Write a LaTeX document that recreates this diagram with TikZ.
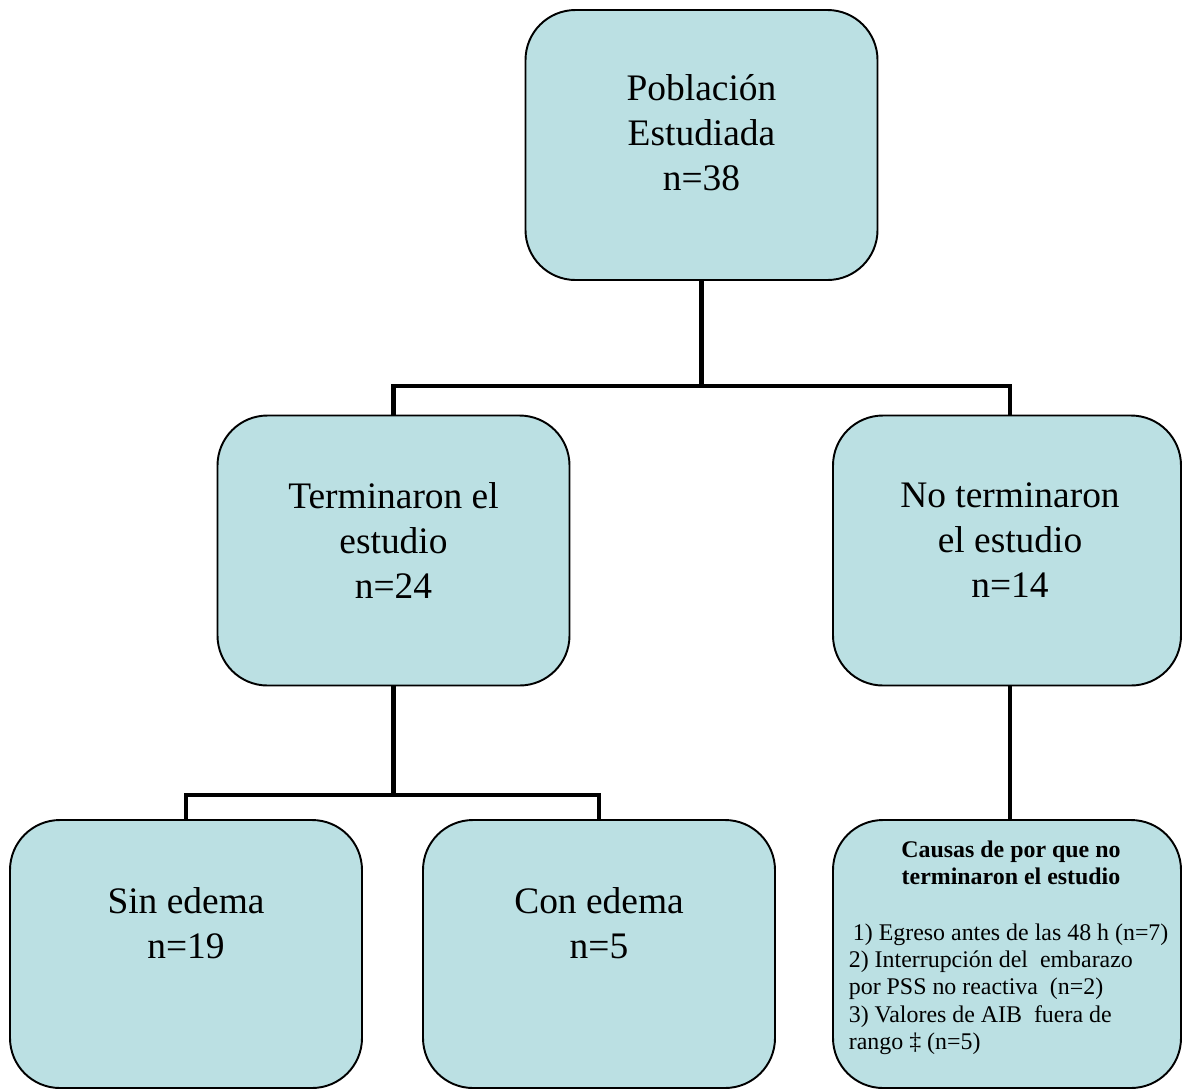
\documentclass[tikz,border=0pt]{standalone}
\usepackage{fontspec}
\setmainfont{Liberation Serif}
\usepackage{tikz}

\definecolor{boxfill}{RGB}{187,224,227}

\tikzset{
    box/.style={draw=black, line width=1.1pt, fill=boxfill, rounded corners=1cm,
        minimum width=7.04cm, minimum height=5.4cm, inner sep=0pt},
    bigtxt/.style={align=center, font=\fontsize{21.3}{25.6}\selectfont},
    conn/.style={line width=2.8pt}
}

\begin{document}
\begin{tikzpicture}
        \useasboundingbox (0,0) rectangle (23.64,-21.78);

        % Boxes
        \node[box] (pob) at (14.03,-2.9) {};
        \node[box] (term) at (7.87,-11.01) {};
        \node[box, minimum width=6.96cm] (noterm) at (20.14,-11.01) {};
        \node[box, minimum height=5.36cm] (sin) at (3.72,-19.08) {};
        \node[box, minimum height=5.36cm] (con) at (11.98,-19.08) {};
        \node[box, minimum width=6.96cm, minimum height=5.36cm] (causas) at (20.14,-19.08) {};

        % Labels
        \node[bigtxt] (pobtxt) at ([yshift=0.24cm]pob.center) {Población\\Estudiada\\n=38};
        \node[bigtxt] (termtxt) at ([yshift=0.2cm]term.center) {Terminaron el\\estudio\\n=24};
        \node[bigtxt] (notermtxt) at ([xshift=0.06cm,yshift=0.2cm]noterm.center) {No terminaron\\el estudio\\n=14};
        \node[bigtxt] (sintxt) at ([yshift=0.62cm]sin.center) {Sin edema\\n=19};
        \node[bigtxt] (contxt) at ([yshift=0.62cm]con.center) {Con edema\\n=5};
        \node[align=center, font=\fontsize{13.6}{15.2}\selectfont\bfseries, anchor=north, inner sep=0pt]
            (causastit) at (20.22,-16.82) {Causas de por que no\\terminaron el estudio};
        \node[align=left, font=\fontsize{13.6}{15.5}\selectfont, anchor=north west, inner sep=0pt]
            (causaslst) at (16.97,-18.47) {\hspace{0.17em}1) Egreso antes de las 48 h (n=7)\\
            2) Interrupción del\ \ embarazo\\
            por PSS no reactiva\ \ (n=2)\\
            3) Valores de AIB\ \ fuera de\\
            rango ‡ (n=5)};

        % Connectors
        \path (pob.south) ++(0,-2.1) coordinate (bus1);
        \path (term.south) ++(0,-2.17) coordinate (bus2);
        \draw[conn] (pob.south) -- (bus1);
        \draw[conn] (term.north) |- (bus1) -| ([xshift=0.06cm]noterm.north);
        \draw[conn] (term.south) -- (bus2);
        \draw[conn] (sin.north) |- (bus2) -| (con.north);
        \draw[conn] ([xshift=0.06cm]noterm.south) -- ([xshift=0.06cm]causas.north);
    \end{tikzpicture}
\end{document}
